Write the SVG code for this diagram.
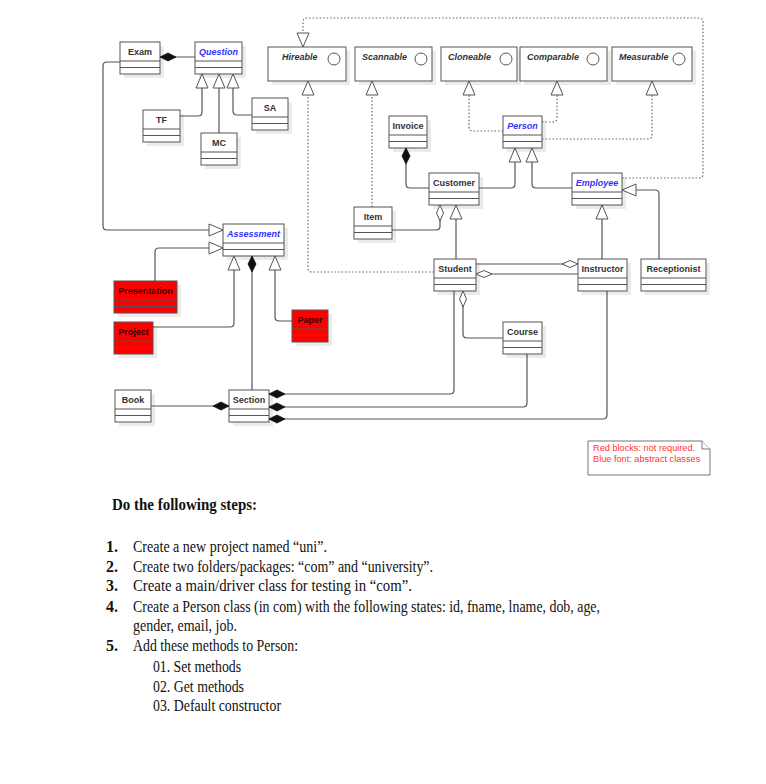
<svg xmlns="http://www.w3.org/2000/svg" width="766" height="784" viewBox="0 0 766 784">
<style>
.sh{fill:#ebebeb;stroke:none}
.box{fill:#fff;stroke:#555;stroke-width:1}
.red{fill:#ff0000;stroke:#555;stroke-width:1}
.dv{fill:none;stroke:#555;stroke-width:1}
.lbl{font-family:"Liberation Sans",Arial,sans-serif;font-size:9px;font-weight:bold;fill:#333;text-anchor:middle}
.abs{font-style:italic;fill:#3333ff}
.ifc{font-family:"Liberation Sans",Arial,sans-serif;font-size:9px;font-weight:bold;font-style:italic;fill:#333}
.circ{fill:#fff;stroke:#555;stroke-width:1}
.c{fill:none;stroke:#555;stroke-width:1.2}
.d{fill:none;stroke:#666;stroke-width:1.2;stroke-dasharray:1.5,2}
.g{marker-end:url(#gen)}
.cp{marker-start:url(#comp)}
.ag{marker-start:url(#agg)}
.note{fill:#fff;stroke:#777;stroke-width:1}
.nt{font-family:"Liberation Sans",Arial,sans-serif;font-size:9.2px;fill:#ff3333}
.tx{font-family:"Liberation Serif","Times New Roman",serif;font-size:16px;fill:#111}
.b{font-weight:bold}
</style>
<defs>
<marker id="gen" markerUnits="userSpaceOnUse" markerWidth="16" markerHeight="14" refX="14" refY="6" orient="auto" overflow="visible">
<path d="M0,0 L14,6 L0,12 Z" fill="#fff" stroke="#555" stroke-width="1" stroke-dasharray="none"/>
</marker>
<marker id="comp" markerUnits="userSpaceOnUse" markerWidth="18" markerHeight="10" refX="0" refY="4" orient="auto" overflow="visible">
<path d="M0,4 L8,0 L16,4 L8,8 Z" fill="#111" stroke="#111" stroke-width="0.8"/>
</marker>
<marker id="agg" markerUnits="userSpaceOnUse" markerWidth="18" markerHeight="10" refX="0" refY="3.5" orient="auto" overflow="visible">
<path d="M0,3.5 L8,0 L16,3.5 L8,7 Z" fill="#fff" stroke="#555" stroke-width="1"/>
</marker>
</defs>
<rect width="766" height="784" fill="#fff"/>

<!-- interfaces -->
<g id="hireable"><rect class="sh" x="272" y="51" width="78" height="34"/><rect class="box" x="268" y="47" width="78" height="34"/><text class="ifc" x="282" y="60">Hireable</text><circle class="circ" cx="334" cy="59" r="6"/></g>
<g id="scannable"><rect class="sh" x="359" y="51" width="77" height="34"/><rect class="box" x="355" y="47" width="77" height="34"/><text class="ifc" x="362" y="60">Scannable</text><circle class="circ" cx="421" cy="59" r="6"/></g>
<g id="cloneable"><rect class="sh" x="445" y="51" width="76" height="34"/><rect class="box" x="441" y="47" width="76" height="34"/><text class="ifc" x="448" y="60">Cloneable</text><circle class="circ" cx="506" cy="59" r="6"/></g>
<g id="comparable"><rect class="sh" x="524" y="51" width="87" height="34"/><rect class="box" x="520" y="47" width="87" height="34"/><text class="ifc" x="527" y="60">Comparable</text><circle class="circ" cx="593" cy="59" r="6"/></g>
<g id="measurable"><rect class="sh" x="616" y="51" width="80" height="34"/><rect class="box" x="612" y="47" width="80" height="34"/><text class="ifc" x="619" y="60">Measurable</text><circle class="circ" cx="679" cy="59" r="6"/></g>

<!-- classes -->
<g id="exam"><rect class="sh" x="124" y="46" width="40" height="32"/><rect class="box" x="120" y="42" width="40" height="32"/><path class="dv" d="M120,61H160M120,67.5H160"/><text class="lbl" x="140" y="55">Exam</text></g>
<g id="question"><rect class="sh" x="199" y="46" width="47" height="32"/><rect class="box" x="195" y="42" width="47" height="32"/><path class="dv" d="M195,61H242M195,67.5H242"/><text class="lbl abs" x="218.5" y="55">Question</text></g>
<g id="tf"><rect class="sh" x="147" y="114" width="37" height="32"/><rect class="box" x="143" y="110" width="37" height="32"/><path class="dv" d="M143,129H180M143,135.5H180"/><text class="lbl" x="161.5" y="123">TF</text></g>
<g id="mc"><rect class="sh" x="205" y="137" width="36" height="32"/><rect class="box" x="201" y="133" width="36" height="32"/><path class="dv" d="M201,152H237M201,158.5H237"/><text class="lbl" x="219" y="146">MC</text></g>
<g id="sa"><rect class="sh" x="256" y="102" width="36" height="32"/><rect class="box" x="252" y="98" width="36" height="32"/><path class="dv" d="M252,117H288M252,123.5H288"/><text class="lbl" x="270" y="111">SA</text></g>
<g id="assessment"><rect class="sh" x="227" y="228" width="61" height="32"/><rect class="box" x="223" y="224" width="61" height="32"/><path class="dv" d="M223,243H284M223,249.5H284"/><text class="lbl abs" x="253.5" y="237">Assessment</text></g>
<g id="presentation"><rect class="sh" x="118" y="285" width="63" height="32"/><rect class="red" x="114" y="281" width="63" height="32"/><path class="dv" d="M114,300H177M114,306.5H177"/><text class="lbl" x="145.5" y="294" style="fill:#300">Presentation</text></g>
<g id="project"><rect class="sh" x="118" y="326" width="39" height="32"/><rect class="red" x="114" y="322" width="39" height="32"/><path class="dv" d="M114,341H153M114,347.5H153"/><text class="lbl" x="133.5" y="335" style="fill:#300">Project</text></g>
<g id="paper"><rect class="sh" x="296" y="314" width="36" height="32"/><rect class="red" x="292" y="310" width="36" height="32"/><path class="dv" d="M292,329H328M292,335.5H328"/><text class="lbl" x="310" y="323" style="fill:#300">Paper</text></g>
<g id="book"><rect class="sh" x="119" y="394" width="36" height="32"/><rect class="box" x="115" y="390" width="36" height="32"/><path class="dv" d="M115,409H151M115,415.5H151"/><text class="lbl" x="133" y="403">Book</text></g>
<g id="section"><rect class="sh" x="233" y="394" width="40" height="32"/><rect class="box" x="229" y="390" width="40" height="32"/><path class="dv" d="M229,409H269M229,415.5H269"/><text class="lbl" x="249" y="403">Section</text></g>
<g id="invoice"><rect class="sh" x="393" y="120" width="38" height="32"/><rect class="box" x="389" y="116" width="38" height="32"/><path class="dv" d="M389,135H427M389,141.5H427"/><text class="lbl" x="408" y="129">Invoice</text></g>
<g id="person"><rect class="sh" x="507" y="120" width="39" height="32"/><rect class="box" x="503" y="116" width="39" height="32"/><path class="dv" d="M503,135H542M503,141.5H542"/><text class="lbl abs" x="522.5" y="129">Person</text></g>
<g id="customer"><rect class="sh" x="433" y="177" width="50" height="32"/><rect class="box" x="429" y="173" width="50" height="32"/><path class="dv" d="M429,192H479M429,198.5H479"/><text class="lbl" x="454" y="186">Customer</text></g>
<g id="employee"><rect class="sh" x="576" y="177" width="50" height="32"/><rect class="box" x="572" y="173" width="50" height="32"/><path class="dv" d="M572,192H622M572,198.5H622"/><text class="lbl abs" x="597" y="186">Employee</text></g>
<g id="item"><rect class="sh" x="358" y="211" width="38" height="32"/><rect class="box" x="354" y="207" width="38" height="32"/><path class="dv" d="M354,226H392M354,232.5H392"/><text class="lbl" x="373" y="220">Item</text></g>
<g id="student"><rect class="sh" x="438" y="263" width="42" height="32"/><rect class="box" x="434" y="259" width="42" height="32"/><path class="dv" d="M434,278H476M434,284.5H476"/><text class="lbl" x="455" y="272">Student</text></g>
<g id="instructor"><rect class="sh" x="582" y="263" width="49" height="32"/><rect class="box" x="578" y="259" width="49" height="32"/><path class="dv" d="M578,278H627M578,284.5H627"/><text class="lbl" x="602.5" y="272">Instructor</text></g>
<g id="receptionist"><rect class="sh" x="645" y="263" width="65" height="32"/><rect class="box" x="641" y="259" width="65" height="32"/><path class="dv" d="M641,278H706M641,284.5H706"/><text class="lbl" x="673.5" y="272">Receptionist</text></g>
<g id="course"><rect class="sh" x="507" y="326" width="39" height="32"/><rect class="box" x="503" y="322" width="39" height="32"/><path class="dv" d="M503,341H542M503,347.5H542"/><text class="lbl" x="522.5" y="335">Course</text></g>

<!-- note -->
<g id="note">
<path class="note" d="M588,441 H702 L710,449 V475 H588 Z"/>
<path class="note" d="M702,441 V449 H710" fill="none"/>
<text class="nt" x="593" y="451">Red blocks: not required.</text>
<text class="nt" x="593" y="462">Blue font: abstract classes</text>
</g>

<!-- connectors -->
<g id="connectors">
<path class="c g" d="M120,62 H107 Q103,62 103,66 V226 Q103,230 107,230 H223"/>
<path class="c cp" d="M160,57 H195"/>
<path class="c g" d="M180,116 H198 Q202,116 202,112 V74"/>
<path class="c g" d="M219,133 V74"/>
<path class="c g" d="M252,115 H237 Q233,115 233,111 V74"/>
<path class="c g" d="M155,281 V252 Q155,248 159,248 H223"/>
<path class="c g" d="M153,327 H230 Q234,327 234,323 V256"/>
<path class="c g" d="M292,321 H279 Q275,321 275,317 V256"/>
<path class="c cp" d="M252,256 V390"/>
<path class="c cp" d="M229,406 H151"/>
<path class="c cp" d="M269,394 H450 Q454,394 454,390 V291"/>
<path class="c cp" d="M269,407 H523 Q527,407 527,403 V354"/>
<path class="c cp" d="M269,419 H603 Q607,419 607,415 V291"/>
<path class="c ag" d="M463,291 V334 Q463,338 467,338 H503"/>
<path class="c ag" d="M578,264 H476"/>
<path class="c ag" d="M476,274 H578"/>
<path class="c g" d="M456,259 V205"/>
<path class="c ag" d="M440,205 V226 Q440,230 436,230 H392"/>
<path class="c cp" d="M406,148 V184 Q406,188 410,188 H429"/>
<path class="c g" d="M479,188 H511 Q515,188 515,184 V148"/>
<path class="c g" d="M572,188 H536 Q532,188 532,184 V148"/>
<path class="c g" d="M602,259 V205"/>
<path class="c g" d="M659,259 V194 Q659,190 655,190 H622"/>
<path class="d g" d="M434,272 H312 Q308,272 308,268 V81"/>
<path class="d g" d="M372,207 V81"/>
<path class="d g" d="M503,131 H473 Q469,131 469,127 V81"/>
<path class="d g" d="M542,122 H553 Q557,122 557,118 V81"/>
<path class="d g" d="M542,139 H648 Q652,139 652,135 V81"/>
<path class="d g" d="M622,178 H699 Q703,178 703,174 V22 Q703,18 699,18 H307 Q303,18 303,22 V47"/>
</g>

<!-- instructions -->
<g id="steps">
<text class="tx b" x="112" y="510" textLength="145" lengthAdjust="spacingAndGlyphs">Do the following steps:</text>
<text class="tx b" x="106" y="552">1.</text>
<text class="tx" x="133" y="552" textLength="194" lengthAdjust="spacingAndGlyphs">Create a new project named “uni”.</text>
<text class="tx b" x="106" y="572">2.</text>
<text class="tx" x="133" y="572" textLength="300" lengthAdjust="spacingAndGlyphs">Create two folders/packages: “com” and “university”.</text>
<text class="tx b" x="106" y="591">3.</text>
<text class="tx" x="133" y="591" textLength="279" lengthAdjust="spacingAndGlyphs">Create a main/driver class for testing in “com”.</text>
<text class="tx b" x="106" y="612">4.</text>
<text class="tx" x="133" y="612" textLength="467" lengthAdjust="spacingAndGlyphs">Create a Person class (in com) with the following states: id, fname, lname, dob, age,</text>
<text class="tx" x="133" y="631" textLength="104" lengthAdjust="spacingAndGlyphs">gender, email, job.</text>
<text class="tx b" x="106" y="651">5.</text>
<text class="tx" x="133" y="651" textLength="165" lengthAdjust="spacingAndGlyphs">Add these methods to Person:</text>
<text class="tx" x="153" y="672" textLength="88" lengthAdjust="spacingAndGlyphs">01. Set methods</text>
<text class="tx" x="153" y="692" textLength="91" lengthAdjust="spacingAndGlyphs">02. Get methods</text>
<text class="tx" x="153" y="711" textLength="128" lengthAdjust="spacingAndGlyphs">03. Default constructor</text>
</g>
</svg>
